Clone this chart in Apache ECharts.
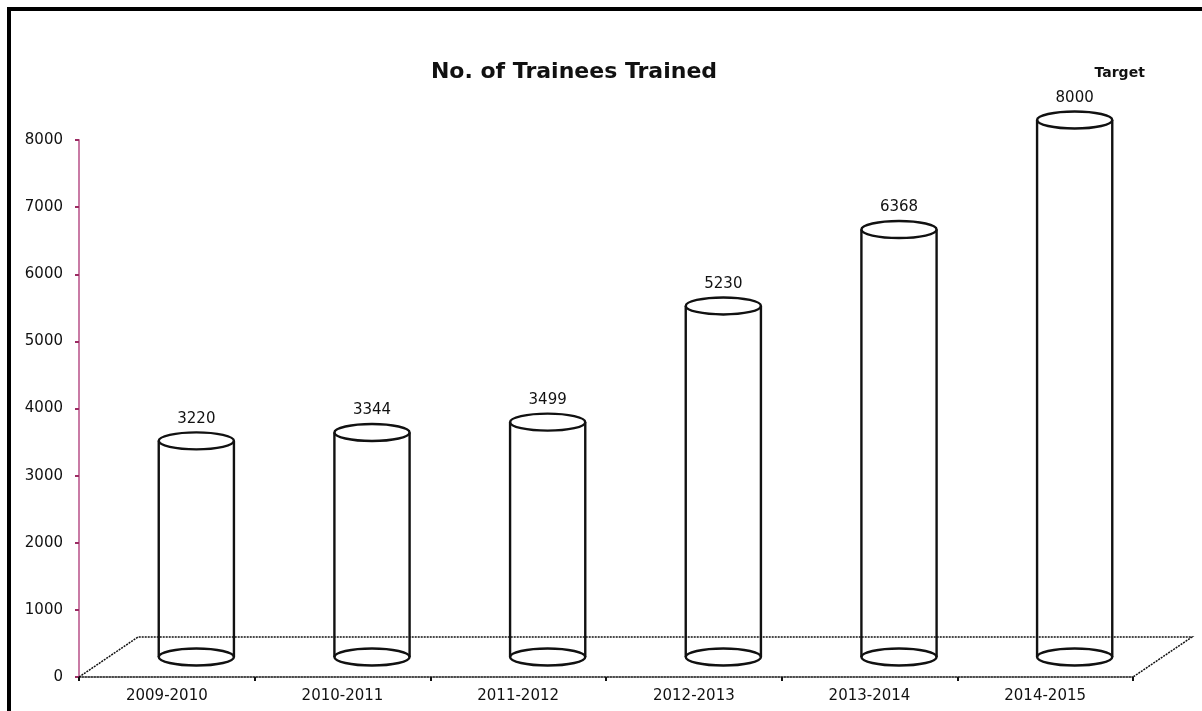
<!DOCTYPE html>
<html>
<head>
<meta charset="utf-8">
<script src="https://cdn.jsdelivr.net/npm/echarts@6/dist/echarts.min.js"></script>
<style>
  html, body { margin: 0; padding: 0; background: #fff; }
  #chart { width: 1202px; height: 711px; }
</style>
</head>
<body>
<div id="chart"></div>
<script>
let years = ['2009-2010', '2010-2011', '2011-2012', '2012-2013', '2013-2014', '2014-2015'];
let trained = [3220, 3344, 3499, 5230, 6368, 8000];
let notes = ['', '', '', '', '', 'Target'];
let yMax = 8000;
let yStep = 1000;

let chart = echarts.init(document.getElementById('chart'));
// floor depth of the fake 3d box
let depthX = 59;
let depthY = -40;
let ink = '#111';
let font = '"DejaVu Sans", sans-serif';

// the dotted floor behind the cylinders
function drawFloor(params, api) {
    let cs = params.coordSys;
    let x0 = cs.x, x1 = cs.x + cs.width, y0 = cs.y + cs.height;
    return {
        type: 'polyline',
        shape: {
            points: [
                [x0, y0],
                [x0 + depthX, y0 + depthY],
                [x1 + depthX, y0 + depthY],
                [x1, y0]
            ]
        },
        style: { stroke: ink, lineWidth: 1.5, fill: 'none', lineDash: [2, 1] }
    };
}

// one open cylinder per year
function drawCylinder(params, api) {
    let idx = api.value(0);
    let val = api.value(1);
    let base = api.coord([idx, 0]);
    let top = api.coord([idx, val]);
    let rx = api.size([1, 0])[0] * 0.214;
    let ry = 8.5;
    let cx = base[0] + depthX / 2;
    let by = base[1] + depthY / 2;
    let ty = top[1] + depthY / 2;
    let pen = { stroke: ink, lineWidth: 2.4, fill: 'none' };
    let kids = [
        { type: 'line', shape: { x1: cx - rx, y1: ty, x2: cx - rx, y2: by }, style: pen },
        { type: 'line', shape: { x1: cx + rx, y1: ty, x2: cx + rx, y2: by }, style: pen },
        { type: 'ellipse', shape: { cx: cx, cy: by, rx: rx, ry: ry }, style: pen },
        { type: 'ellipse', shape: { cx: cx, cy: ty, rx: rx, ry: ry }, style: pen },
        {
            type: 'text', x: cx, y: ty - 22,
            style: {
                text: String(val), fill: ink, font: '15px ' + font,
                align: 'center', verticalAlign: 'middle',
                textAlign: 'center', textVerticalAlign: 'middle'
            }
        }
    ];
    if (notes[idx]) {
        kids.push({
            type: 'text', x: cx + 45, y: ty - 47,
            style: {
                text: notes[idx], fill: ink, font: 'bold 14px ' + font,
                align: 'center', verticalAlign: 'middle',
                textAlign: 'center', textVerticalAlign: 'middle'
            }
        });
    }
    return { type: 'group', children: kids };
}

chart.setOption({
    animation: false,
    backgroundColor: '#fff',
    grid: { left: 79, right: 69, top: 140, bottom: 34 },
    xAxis: {
        type: 'category',
        data: years,
        boundaryGap: true,
        axisLine: { lineStyle: { color: ink, width: 1.5, type: 'dotted' } },
        axisTick: { show: true, length: 4, lineStyle: { color: ink, width: 2 } },
        axisLabel: { margin: 12, color: ink, fontSize: 15, fontFamily: 'DejaVu Sans' },
        splitLine: { show: false }
    },
    yAxis: {
        type: 'value',
        min: 0,
        max: yMax,
        interval: yStep,
        axisLine: { show: true, lineStyle: { color: '#c97ba5', width: 2 } },
        axisTick: { show: true, length: 4, lineStyle: { color: '#9b2c63', width: 2 } },
        axisLabel: {
            margin: 16, color: ink, fontSize: 15, fontFamily: 'DejaVu Sans',
            formatter: v => String(v)
        },
        splitLine: { show: false }
    },
    graphic: [
        {
            type: 'rect',
            shape: { x: 9, y: 9, width: 1400, height: 900 },
            style: { stroke: '#000', lineWidth: 4, fill: 'none' },
            silent: true
        },
        {
            type: 'text', x: 574, y: 72,
            style: {
                text: 'No. of Trainees Trained', fill: ink, font: 'bold 22px ' + font,
                align: 'center', verticalAlign: 'middle',
                textAlign: 'center', textVerticalAlign: 'middle'
            }
        }
    ],
    series: [
        {
            type: 'custom',
            renderItem: drawFloor,
            data: [[0, 0]],
            z: 1,
            silent: true
        },
        {
            type: 'custom',
            renderItem: drawCylinder,
            data: trained.map((v, i) => [i, v]),
            z: 2
        }
    ]
});
</script>
</body>
</html>
